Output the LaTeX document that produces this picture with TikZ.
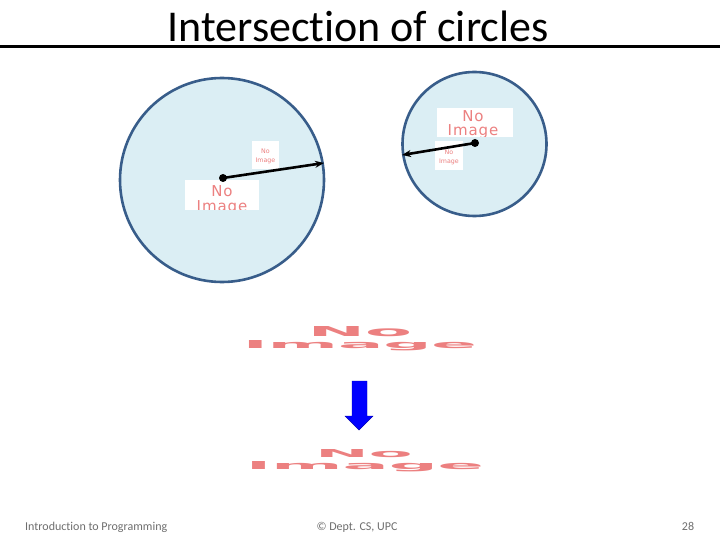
\documentclass[tikz,border=0pt]{standalone}
\usepackage{fontspec}
\setmainfont{Carlito}[Ligatures=NoCommon]
\newfontfamily\noimgfont{DejaVu Sans}
\newfontfamily\noimgwide{DejaVu Sans}[LetterSpace=6]
\usetikzlibrary{arrows.meta}
\definecolor{circfill}{RGB}{219,238,244}
\definecolor{circline}{RGB}{56,93,138}
\definecolor{noimg}{RGB}{236,128,128}
\definecolor{foot}{RGB}{110,110,110}
\tikzset{
  circ/.style={circle, draw=circline, line width=2.6pt, fill=circfill, inner sep=0pt},
  radius arrow/.style={line width=2.6pt, -{Stealth[length=9pt,width=7pt]}},
  dot/.style={circle, fill=black, inner sep=0pt, minimum size=8pt},
  noimgtext/.style={text=noimg, font=\noimgfont, align=center, inner sep=0pt},
  smallnoimg/.style={text=noimg, font=\noimgfont\fontsize{6.3}{9}\selectfont, align=center, inner sep=0pt},
  footer/.style={text=foot, font=\fontsize{12}{14}\selectfont, inner sep=0pt, anchor=base}
}
\begin{document}
\begin{tikzpicture}[x=1pt,y=-1pt]
\useasboundingbox[fill=white] (0,0) rectangle (720,540);
% title
\node[anchor=base, inner sep=0pt, font=\fontsize{44}{50}\selectfont] (title) at (358,42) {Intersection of circles};
\draw[line width=3pt] (0,47) -- (720,47);
% circles
\node[circ, minimum size=204pt] (c1) at (222,180) {};
\node[circ, minimum size=144pt] (c2) at (474.5,144) {};
% image boxes (big circle)
\begin{scope}
\clip (185,180) rectangle (259,210);
\fill[white] (185,180) rectangle (259,210);
\node[noimgtext, font=\noimgwide\fontsize{15}{15.5}\selectfont] (img1) at (222,200) {No\\Image};
\end{scope}
\fill[white] (252,141) rectangle (279,169);
\node[smallnoimg] (img2) at (265.5,156) {No\\Image};
% image boxes (small circle)
\begin{scope}
\clip (437,108) rectangle (513,137);
\fill[white] (437,108) rectangle (513,137);
\node[noimgtext, font=\noimgwide\fontsize{15}{14.5}\selectfont] (img3) at (473,124.5) {No\\Image};
\end{scope}
\fill[white] (435,141) rectangle (463,170);
\node[smallnoimg] (img4) at (449,157) {No\\Image};
% radii
\node[dot] (p1) at (223,178) {};
\coordinate (e1) at (324,163);
\draw[radius arrow] (p1.center) -- (e1);
\node[dot] (p2) at (475,143) {};
\coordinate (e2) at (402,155);
\draw[radius arrow] (p2.center) -- (e2);
% stretched images
\node[noimgtext, font=\noimgfont\bfseries, anchor=center] (big1a) at (360,332) {\resizebox{104pt}{10pt}{No}};
\node[noimgtext, font=\noimgfont\bfseries, anchor=center] (big1b) at (360,345.5) {\resizebox{234pt}{8pt}{Image}};
\node[noimgtext, font=\noimgfont\bfseries, anchor=center] (big2a) at (364,454) {\resizebox{97pt}{8pt}{No}};
\node[noimgtext, font=\noimgfont\bfseries, anchor=center] (big2b) at (365,466.5) {\resizebox{238pt}{8pt}{Image}};
% blue arrow
\fill[blue, draw=blue!70!black, line width=0.4pt]
  (352,381) -- (367,381) -- (367,416) -- (373,416) -- (359,430) -- (345,416) -- (352,416) -- cycle;
% footer
\node[footer, anchor=base west] (f1) at (25,530) {Introduction to Programming};
\node[footer] (f2) at (357,530) {© Dept. CS, UPC};
\node[footer] (f3) at (688,530) {28};
\end{tikzpicture}
\end{document}
